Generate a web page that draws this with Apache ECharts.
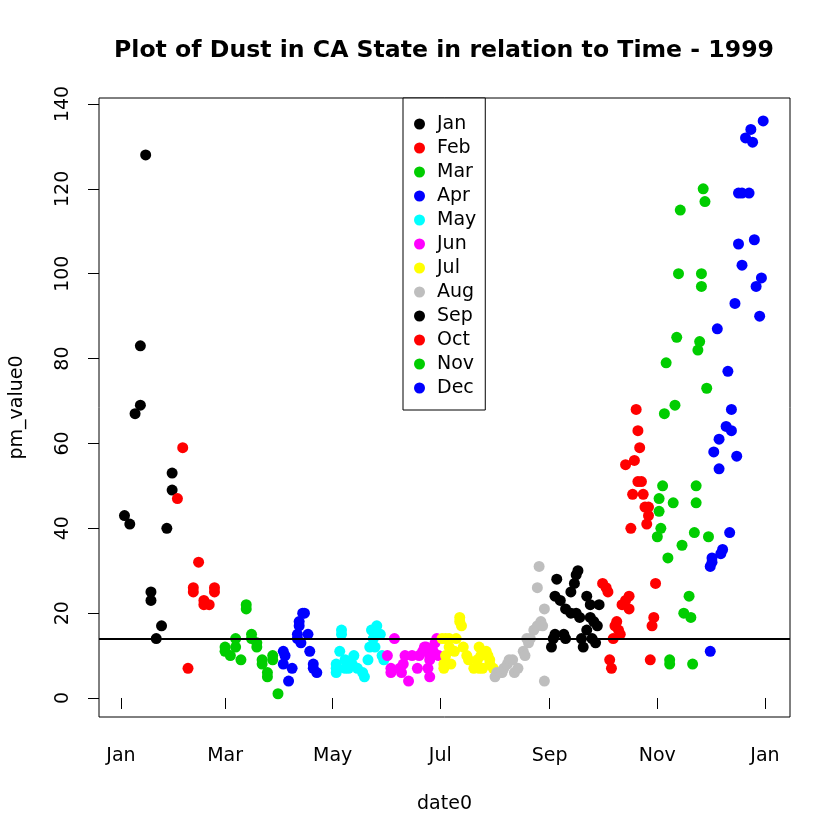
<!DOCTYPE html>
<html>
<head>
<meta charset="utf-8">
<script src="https://cdn.jsdelivr.net/npm/echarts@6/dist/echarts.min.js"></script>
<style>html,body{margin:0;padding:0;background:#fff}#chart{width:840px;height:840px}</style>
</head>
<body>
<div id="chart"></div>
<script>
// ---- data: [day of month, pm value] per month of 1999 ----
const year = 1999;
const monthNames = ['Jan','Feb','Mar','Apr','May','Jun','Jul','Aug','Sep','Oct','Nov','Dec'];
const monthColors = ['#000000','#FF0000','#00CD00','#0000FF','#00FFFF','#FF00FF','#FFFF00','#BEBEBE','#000000','#FF0000','#00CD00','#0000FF'];

const jan = [[3,43],[6,41],[9,67],[12,83],[12,69],[15,128],[18,25],[18,23],[21,14],[24,17],[27,40],[30,53],[30,49]];
const feb = [[2,47],[5,59],[8,7],[11,26],[11,25],[14,32],[17,23],[17,22],[20,22],[23,26],[23,25]];
const mar = [[1,12],[1,11],[4,10],[7,14],[7,12],[10,9],[13,22],[13,21],[16,15],[16,14],[19,13],[19,12],[22,9],[22,8],[25,6],[25,5],[28,10],[28,9],[31,1]];
const apr = [[3,11],[3,8],[4,10],[6,4],[8,7],[11,15],[11,14],[12,18],[12,17],[13,13],[14,20],[15,20],[17,15],[18,11],[20,8],[20,7],[22,6]];
const may = [[3,8],[3,7],[3,6],[5,11],[6,16],[6,15],[8,9],[8,7],[10,7],[12,8],[13,10],[15,7],[18,6],[19,5],[21,9],[22,12],[23,16],[24,14],[25,12],[26,17],[28,15],[29,10],[30,9]];
const jun = [[1,10],[3,7],[3,6],[5,14],[8,7],[9,6],[10,8],[11,10],[13,4],[15,10],[18,7],[19,10],[21,11],[22,12],[23,12],[24,7],[25,10],[25,9],[25,5],[27,11],[28,13],[29,14],[30,10]];
const jul = [[2,14],[3,8],[3,7],[4,14],[4,10],[6,14],[6,12],[7,8],[9,11],[10,14],[12,19],[12,18],[13,17],[14,12],[16,10],[17,9],[20,7],[22,9],[23,12],[23,7],[24,10],[25,7],[27,11],[28,10],[29,9],[29,8],[31,7]];
const aug = [[1,5],[2,6],[4,6],[5,6],[6,7],[8,8],[9,9],[11,9],[12,6],[14,7],[17,11],[18,10],[19,14],[20,13],[21,14],[23,16],[25,26],[25,17],[26,31],[27,18],[28,17],[29,21],[29,4]];
const sep = [[2,12],[3,14],[4,15],[4,24],[5,28],[7,23],[9,15],[10,14],[10,21],[13,25],[13,20],[15,27],[16,29],[16,20],[17,30],[18,19],[19,14],[20,12],[22,24],[22,16],[24,22],[24,19],[25,14],[26,18],[27,13],[28,17],[29,22]];
const oct = [[1,27],[3,26],[4,25],[5,9],[6,7],[7,14],[8,17],[9,18],[10,16],[11,15],[12,22],[14,55],[14,23],[16,24],[16,21],[17,40],[18,48],[19,56],[20,68],[21,63],[21,51],[22,59],[23,51],[24,48],[25,45],[26,41],[27,45],[27,43],[28,9],[29,17],[30,19],[31,27]];
const nov = [[1,38],[2,47],[2,44],[3,40],[4,50],[5,67],[6,79],[7,33],[8,9],[8,8],[10,46],[11,69],[12,85],[13,100],[14,115],[15,36],[16,20],[19,24],[20,19],[21,8],[22,39],[23,50],[23,46],[24,82],[25,84],[26,100],[26,97],[27,120],[28,117],[29,73],[30,38]];
const dec = [[1,11],[1,31],[2,32],[2,33],[3,58],[5,87],[6,54],[6,61],[7,34],[8,35],[10,64],[11,77],[12,39],[13,68],[13,63],[15,93],[16,57],[17,107],[17,119],[19,102],[19,119],[21,132],[23,119],[24,134],[25,131],[26,108],[27,97],[29,90],[30,99],[31,136]];

const months = [jan, feb, mar, apr, may, jun, jul, aug, sep, oct, nov, dec];
const refLevel = 14;
const yTicks = [0, 20, 40, 60, 80, 100, 120, 140];
const xTickDates = [[1999,0,1],[1999,2,1],[1999,4,1],[1999,6,1],[1999,8,1],[1999,10,1],[2000,0,1]];
const xTickLabels = ['Jan','Mar','May','Jul','Sep','Nov','Jan'];

// ---- chart ----
const DAY = 86400000;
const t0 = Date.UTC(year, 0, 1);
const xTickVals = xTickDates.map(d => Date.UTC(d[0], d[1], d[2]));
const FONT = 'DejaVu Sans';

const series = months.map((arr, i) => ({
  name: monthNames[i],
  type: 'scatter',
  symbol: 'circle',
  symbolSize: 11,
  itemStyle: { color: monthColors[i], opacity: 1 },
  data: arr.map(p => [Date.UTC(year, i, p[0]), p[1]]),
  silent: true,
  z: 3
}));
series[0].markLine = {
  silent: true,
  symbol: ['none', 'none'],
  label: { show: false },
  lineStyle: { color: '#000', width: 2, type: 'solid' },
  data: [{ yAxis: refLevel }],
  z: 5
};

const chart = echarts.init(document.getElementById('chart'), null, { renderer: 'canvas' });
chart.setOption({
  animation: false,
  backgroundColor: '#fff',
  grid: { left: 98, right: 50, top: 98, bottom: 123, show: true, borderColor: '#000', borderWidth: 1, backgroundColor: 'transparent' },
  graphic: [{
    type: 'text', x: 444, y: 51,
    style: { text: 'Plot of Dust in CA State in relation to Time - 1999', align: 'center', verticalAlign: 'middle',
             font: 'bold 23.6px "DejaVu Sans"', fill: '#000' }
  }],
  legend: {
    orient: 'vertical', left: 403, top: 98,
    data: monthNames, icon: 'circle', itemWidth: 11, itemHeight: 11, itemGap: 0,
    selectedMode: false,
    padding: [14, 9, 10, 11],
    borderColor: '#000', borderWidth: 1, backgroundColor: '#fff',
    textStyle: { fontFamily: FONT, fontSize: 19, color: '#000', lineHeight: 24, padding: [0, 0, 0, 7] }
  },
  xAxis: {
    type: 'value',
    min: t0 - 12.45 * DAY,
    max: t0 + 379.2 * DAY,
    axisLine: { show: false },
    splitLine: { show: false },
    axisTick: { show: true, customValues: xTickVals, length: 11, lineStyle: { color: '#000', width: 1 } },
    axisLabel: {
      customValues: xTickVals, margin: 30, color: '#000', fontFamily: FONT, fontSize: 19,
      formatter: function (v) { const k = xTickVals.indexOf(+v); return k >= 0 ? xTickLabels[k] : ''; }
    },
    name: 'date0', nameLocation: 'middle', nameGap: 78,
    nameTextStyle: { fontFamily: FONT, fontSize: 19, color: '#000' }
  },
  yAxis: {
    type: 'value',
    min: -4.48, max: 141.41,
    axisLine: { show: false },
    splitLine: { show: false },
    axisTick: { show: true, customValues: yTicks, length: 11, lineStyle: { color: '#000', width: 1 } },
    axisLabel: { customValues: yTicks, rotate: 90, margin: 26, color: '#000', fontFamily: FONT, fontSize: 19 },
    name: 'pm_value0', nameLocation: 'middle', nameGap: 72, nameRotate: 90,
    nameTextStyle: { fontFamily: FONT, fontSize: 19, color: '#000' }
  },
  series: series
});
</script>
</body>
</html>
